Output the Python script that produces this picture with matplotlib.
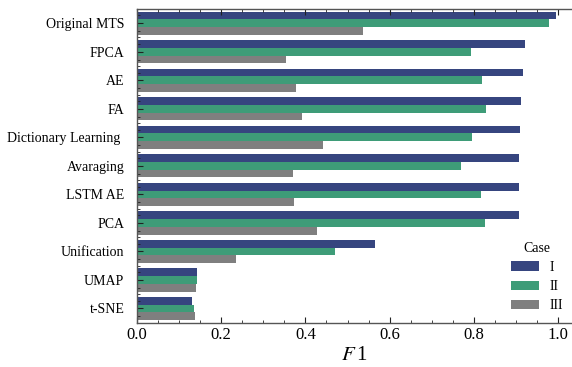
import matplotlib
matplotlib.use("Agg")
import matplotlib.pyplot as plt
import numpy as np
from matplotlib.ticker import MultipleLocator, FixedLocator
from matplotlib.patches import Patch

methods = ["Original MTS", "FPCA", "AE", "FA", "Dictionary Learning ", "Avaraging",
           "LSTM AE", "PCA", "Unification", "UMAP", "t-SNE"]
case_I = [0.994, 0.921, 0.916, 0.911, 0.908, 0.906, 0.907, 0.907, 0.566, 0.144, 0.132]
case_II = [0.978, 0.792, 0.819, 0.828, 0.795, 0.769, 0.817, 0.827, 0.471, 0.144, 0.137]
case_III = [0.536, 0.354, 0.378, 0.392, 0.442, 0.371, 0.374, 0.428, 0.236, 0.1415, 0.139]
cases = ["I", "II", "III"]
colors = ["#36457f", "#3e9c78", "#7f7f7f"]

plt.rcParams['font.family'] = ['Liberation Serif', 'DejaVu Serif']
plt.rcParams['mathtext.fontset'] = 'stix'

fig = plt.figure(figsize=(5.72, 3.67), dpi=100)
ax = fig.add_axes([0.239, 0.119, 0.761, 0.8558])

n = len(methods)
y = np.arange(n)[::-1].astype(float)
h = 0.272
for vals, off, c, lab in zip([case_I, case_II, case_III], [h, 0, -h], colors, cases):
    ax.barh(y + off, vals, height=h, color=c, label=lab, linewidth=0)

ax.set_xlim(0, 1.0325)
ax.set_ylim(-0.52, 10.49)

ax.set_yticks(y)
ax.set_yticklabels(methods, fontsize=10)
minor_y = sorted(list(y + h) + list(y - h) + list(np.arange(-0.5, n, 1.0)))
ax.yaxis.set_minor_locator(FixedLocator(minor_y))

ax.xaxis.set_major_locator(MultipleLocator(0.2))
ax.xaxis.set_minor_locator(MultipleLocator(0.05))
ax.set_xticks([0, 0.2, 0.4, 0.6, 0.8, 1.0])
ax.set_xticklabels(["0.0", "0.2", "0.4", "0.6", "0.8", "1.0"], fontsize=12)

ax.tick_params(axis='both', which='major', direction='in', length=4, width=0.8,
               top=True, right=False, color='#222222')
ax.tick_params(axis='both', which='minor', direction='in', length=2, width=0.6,
               top=True, right=False, color='#222222')
ax.tick_params(axis='y', which='major', pad=9)
ax.tick_params(axis='x', which='major', pad=3)

for s in ['left', 'bottom', 'top']:
    ax.spines[s].set_color('#555555')
    ax.spines[s].set_linewidth(1.0)
ax.spines['right'].set_visible(False)

ax.set_xlabel(r"$F\,$1", fontsize=15, labelpad=2)

handles = [Patch(facecolor=c, edgecolor='none', label=l) for c, l in zip(colors, cases)]
leg = fig.legend(handles=handles, title="Case", loc='upper left',
                 bbox_to_anchor=(501 / 572, 1 - 232 / 367), frameon=False,
                 fontsize=10, title_fontsize=10, handlelength=2.0, handleheight=0.65,
                 labelspacing=0.45, handletextpad=0.8, borderpad=0.2)

fig.savefig("out.png", dpi=100)
